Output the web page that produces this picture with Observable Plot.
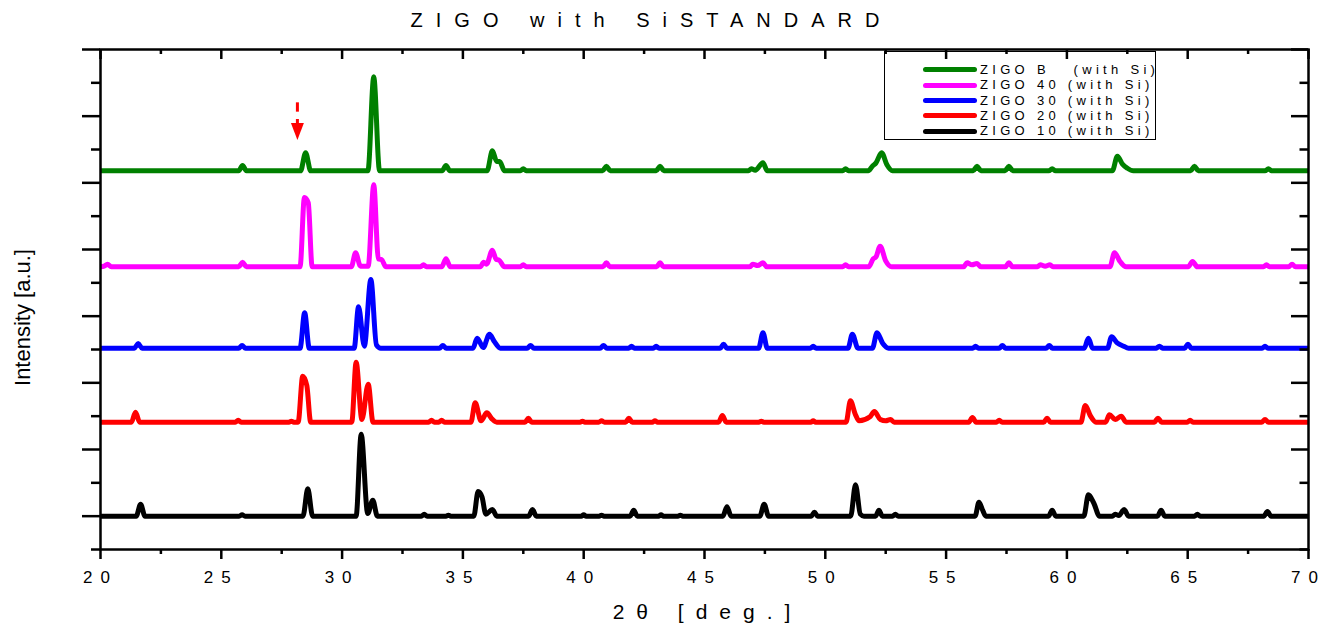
<!DOCTYPE html>
<html>
<head>
<meta charset="utf-8">
<script src="https://cdn.jsdelivr.net/npm/d3@7"></script>
<script src="https://cdn.jsdelivr.net/npm/@observablehq/plot@0.6"></script>
<style>
  html, body { margin: 0; padding: 0; background: #fff; }
  #wrap { position: relative; width: 1324px; height: 624px; font-family: "Liberation Sans", Arial, sans-serif; }
  #chart svg { display: block; }
  g[aria-label="x-axis tick label"] text { letter-spacing: 8px; }
  #legend { position: absolute; left: 884px; top: 51px; width: 272px; height: 89px; border: 1.5px solid #000; box-sizing: border-box; }
  #legend .sw { position: absolute; left: 38px; width: 54px; height: 5px; border-radius: 2.5px; }
  #legend .lab { position: absolute; left: 95px; font-size: 13px; line-height: 16px; letter-spacing: 4.3px; white-space: pre; color: #000; }
</style>
</head>
<body>
<div id="wrap">
  <div id="chart"></div>
  <div id="legend"></div>
</div>
<script>
// ---------- data ----------
const xTickValues = [20, 25, 30, 35, 40, 45, 50, 55, 60, 65, 70];
const xTickLabels = ["20", "25", "30", "35", "40", "45", "50", "55", "60", "65", "70"];
const xMinorValues = [22.5, 27.5, 32.5, 37.5, 42.5, 47.5, 52.5, 57.5, 62.5, 67.5];
const yMajorValues = [0, 100, 200, 300, 400, 500, 600, 700];
const yMinorValues = [-50, 50, 150, 250, 350, 450, 550, 650];

const seriesNames = ["ZIGO B", "ZIGO 40", "ZIGO 30", "ZIGO 20", "ZIGO 10"];
const legendLabels = ["ZIGO B   (with Si)", "ZIGO 40 (with Si)", "ZIGO 30 (with Si)", "ZIGO 20 (with Si)", "ZIGO 10 (with Si)"];
const seriesColors = ["#008000", "#ff00ff", "#0000ff", "#ff0000", "#000000"];
const seriesOffsets = [518, 374, 252, 141, 0];

// [2θ, intensity above the series baseline]
const zigoB = [[20,0],[25.72,0],[25.88,8],[26.04,0],[28.28,0],[28.49,27],[28.7,0],[31.07,0],[31.31,141],[31.55,0],[34.14,0],[34.3,8],[34.46,0],[36.0,0],[36.22,30],[36.4,14],[36.52,14],[36.72,0],[37.38,0],[37.5,3],[37.62,0],[40.78,0],[40.94,7],[41.1,0],[43.0,0],[43.16,7],[43.32,0],[46.82,0],[46.94,3],[47.1,1],[47.42,12],[47.6,0],[50.72,0],[50.84,3],[50.96,0],[51.78,0],[51.95,7],[52.1,12],[52.33,27],[52.55,9],[52.78,0],[56.12,0],[56.28,7],[56.44,0],[57.44,0],[57.6,7],[57.76,0],[59.25,0],[59.39,3],[59.53,0],[61.88,0],[62.09,22],[62.3,10],[62.5,4],[62.75,0],[65.12,0],[65.28,7],[65.44,0],[68.2,0],[68.34,3],[68.48,0],[70,0]];
const zigo40 = [[20,0],[20.15,1],[20.29,4],[20.45,0],[25.72,0],[25.88,7],[26.04,0],[28.26,0],[28.44,104],[28.6,96],[28.76,0],[30.38,0],[30.56,21],[30.76,1],[31.08,1],[31.31,123],[31.5,12],[31.63,11],[31.82,0],[33.25,0],[33.37,3],[33.49,0],[34.12,0],[34.3,12],[34.48,0],[35.72,0],[35.86,7],[35.98,4],[36.22,25],[36.38,11],[36.5,10],[36.72,0],[37.38,0],[37.5,3],[37.62,0],[40.8,0],[40.94,6],[41.08,0],[43.02,0],[43.16,6],[43.3,0],[46.88,0],[47.0,4],[47.2,2],[47.42,6],[47.58,0],[50.72,0],[50.84,3],[50.96,0],[51.8,0],[51.98,12],[52.1,15],[52.27,31],[52.5,9],[52.75,0],[55.72,0],[55.87,6],[56.07,3],[56.28,5],[56.44,0],[57.45,0],[57.6,6],[57.75,0],[58.78,0],[58.9,3],[59.1,1],[59.3,3],[59.42,0],[61.78,0],[61.97,21],[62.2,8],[62.45,0],[65.02,0],[65.2,8],[65.4,0],[68.14,0],[68.26,3],[68.38,0],[69.18,0],[69.32,4],[69.46,0],[70,0]];
const zigo30 = [[20,0],[21.4,0],[21.56,7],[21.72,0],[25.72,0],[25.86,4],[26.0,0],[28.26,0],[28.45,53],[28.64,0],[30.5,0],[30.68,62],[30.92,3],[31.19,103],[31.42,5],[31.6,0],[34.03,0],[34.17,4],[34.31,0],[35.42,0],[35.59,15],[35.84,1],[36.1,21],[36.3,10],[36.55,0],[37.66,0],[37.8,4],[37.94,0],[40.68,0],[40.82,4],[40.96,0],[41.86,0],[41.98,3],[42.1,0],[42.88,0],[43.0,3],[43.12,0],[45.65,0],[45.79,6],[45.93,0],[47.24,0],[47.42,23],[47.6,0],[49.38,0],[49.5,3],[49.62,0],[50.94,0],[51.12,21],[51.35,0],[51.95,0],[52.14,23],[52.38,7],[52.62,0],[56.1,0],[56.22,3],[56.34,0],[57.2,0],[57.33,4],[57.46,0],[59.14,0],[59.27,4],[59.4,0],[60.72,0],[60.89,15],[61.06,0],[61.68,0],[61.85,17],[62.08,8],[62.35,3],[62.55,0],[63.7,0],[63.83,3],[63.96,0],[64.87,0],[65.01,6],[65.15,0],[68.08,0],[68.2,3],[68.32,0],[70,0]];
const zigo20 = [[20,0],[21.28,0],[21.45,15],[21.62,0],[25.58,0],[25.7,3],[25.82,0],[27.8,0],[27.9,1.5],[28.0,0],[28.18,0],[28.37,69],[28.54,55],[28.7,0],[30.4,0],[30.58,90],[30.82,4],[31.08,57],[31.28,0],[33.58,0],[33.7,3],[33.82,0],[34.0,0],[34.12,3],[34.24,0],[35.33,0],[35.51,29],[35.75,2],[35.99,14],[36.2,5],[36.4,0],[37.57,0],[37.71,6],[37.85,0],[39.85,0],[39.95,1.5],[40.05,0],[40.62,0],[40.74,2],[40.86,0],[41.73,0],[41.87,6],[42.01,0],[42.84,0],[42.95,2],[43.06,0],[45.58,0],[45.74,10],[45.9,0],[47.25,0],[47.35,1.5],[47.45,0],[49.4,0],[49.5,2],[49.6,0],[50.86,0],[51.04,32],[51.24,12],[51.4,2],[51.85,8],[52.03,16],[52.28,4],[52.5,2],[52.7,4],[52.85,0],[55.94,0],[56.09,7],[56.24,0],[57.08,0],[57.2,3],[57.32,0],[59.04,0],[59.18,6],[59.32,0],[60.58,0],[60.76,25],[60.98,9],[61.2,0],[61.6,0],[61.76,11],[62.0,4],[62.25,9],[62.45,0],[63.62,0],[63.77,6],[63.92,0],[64.98,0],[65.1,3],[65.22,0],[68.06,0],[68.2,4],[68.34,0],[70,0]];
const zigo10 = [[20,0],[21.48,0],[21.66,18],[21.84,0],[25.74,0],[25.86,2],[25.98,0],[28.38,0],[28.58,41],[28.78,0],[30.58,0],[30.79,123],[31.06,4],[31.27,24],[31.46,0],[33.28,0],[33.4,3],[33.52,0],[34.3,0],[34.4,1.5],[34.5,0],[35.45,0],[35.63,37],[35.79,29],[35.95,3],[36.22,10],[36.4,0],[37.72,0],[37.88,10],[38.04,0],[39.9,0],[40.0,2],[40.1,0],[40.64,0],[40.74,1.5],[40.84,0],[41.92,0],[42.07,9],[42.22,0],[43.1,0],[43.2,2],[43.3,0],[43.9,0],[44.0,1.5],[44.1,0],[45.76,0],[45.93,14],[46.1,0],[47.29,0],[47.47,18],[47.65,0],[49.42,0],[49.55,6],[49.68,0],[51.05,0],[51.25,47],[51.45,3],[51.6,0],[52.08,0],[52.22,9],[52.36,0],[52.78,0],[52.9,3],[53.02,0],[56.2,0],[56.36,21],[56.5,10],[56.65,0],[59.24,0],[59.39,9],[59.54,0],[60.7,0],[60.89,32],[61.12,19],[61.35,0],[61.88,0],[62.0,3],[62.15,1],[62.37,10],[62.55,0],[63.75,0],[63.9,9],[64.05,0],[65.28,0],[65.4,3],[65.52,0],[68.15,0],[68.3,7],[68.45,0],[70,0]];
const seriesPoints = [zigoB, zigo40, zigo30, zigo20, zigo10];

// red marker arrow above the ZIGO B peak near 28°
const arrowNote = [{ t: 28.15, dashTop: 620, dashBottom: 606, stemTop: 595, stemBottom: 586, head: 577 }];

const titleText = "ZIGO with SiSTANDARD";
const xTitle = "2θ [deg.]";
const yTitle = "Intensity [a.u.]";

// ---------- build ----------
const FONT = '"Liberation Sans", Arial, sans-serif';
const W = 1324, H = 624, mL = 100, mR = 16, mT = 49, mB = 75;
const xDom = [20, 70], yDom = [-50, 700];
const xPerPx = (xDom[1] - xDom[0]) / (W - mL - mR);
const yPerPx = (yDom[1] - yDom[0]) / (H - mT - mB);

const rows = seriesNames.flatMap((name, i) =>
  seriesPoints[i].map(([t, v]) => ({ name, t, y: v + seriesOffsets[i] }))
);

const downTriangle = {
  draw(context) {
    context.moveTo(-6.5, -8.5);
    context.lineTo(6.5, -8.5);
    context.lineTo(0, 8.5);
    context.closePath();
  }
};

const plot = Plot.plot({
  width: W, height: H,
  marginLeft: mL, marginRight: mR, marginTop: mT, marginBottom: mB,
  x: { domain: xDom },
  y: { domain: yDom },
  color: { domain: seriesNames, range: seriesColors },
  style: { fontFamily: FONT, fontSize: "17px", color: "#000", background: "#fff", overflow: "visible" },
  marks: [
    Plot.line(rows, { x: "t", y: "y", z: "name", stroke: "name", strokeWidth: 5, curve: "monotone-x", strokeLinejoin: "round", strokeLinecap: "butt" }),
    Plot.frame({ stroke: "#000", strokeWidth: 2.5 }),
    Plot.axisX({ anchor: "bottom", ticks: xTickValues, tickSize: 10, tickPadding: 11, tickFormat: d => xTickLabels[xTickValues.indexOf(d)], strokeWidth: 2.5, fontSize: 17, dx: 0, label: null }),
    Plot.axisX({ anchor: "bottom", ticks: xMinorValues, tickSize: 5, tickFormat: () => "", strokeWidth: 2.5, label: null }),
    Plot.axisY({ anchor: "left", ticks: yMajorValues, tickSize: 18, tickFormat: () => "", strokeWidth: 2.5, label: null }),
    Plot.axisY({ anchor: "left", ticks: yMinorValues, tickSize: 9, tickFormat: () => "", strokeWidth: 2.5, label: null }),
    Plot.ruleY(yMajorValues, { y: d => d, x1: xDom[1] - 17 * xPerPx, x2: xDom[1], strokeWidth: 2.5 }),
    Plot.ruleY(yMinorValues, { y: d => d, x1: xDom[1] - 8.5 * xPerPx, x2: xDom[1], strokeWidth: 2.5 }),
    Plot.ruleX(xTickValues, { x: d => d, y1: yDom[1] - 10 * yPerPx, y2: yDom[1], strokeWidth: 2.5 }),
    Plot.ruleX(xMinorValues, { x: d => d, y1: yDom[1] - 5 * yPerPx, y2: yDom[1], strokeWidth: 2.5 }),
    // arrow annotation
    Plot.ruleX(arrowNote, { x: "t", y1: "dashBottom", y2: "dashTop", stroke: "#ff0000", strokeWidth: 3 }),
    Plot.ruleX(arrowNote, { x: "t", y1: "stemBottom", y2: "stemTop", stroke: "#ff0000", strokeWidth: 3 }),
    Plot.dot(arrowNote, { x: "t", y: "head", r: 6, symbol: downTriangle, fill: "#ff0000", stroke: null }),
    // titles
    Plot.text([titleText], { frameAnchor: "top", dy: -29, dx: -53, fontSize: 20, textAnchor: "middle", lineAnchor: "middle" }),
    Plot.text([xTitle], { frameAnchor: "bottom", dy: 63, dx: 3, fontSize: 21, textAnchor: "middle", lineAnchor: "middle" }),
    Plot.text([yTitle], { frameAnchor: "left", dx: -78, dy: 18, rotate: -90, fontSize: 22, textAnchor: "middle", lineAnchor: "middle" })
  ]
});
document.getElementById("chart").appendChild(plot);

// letter spacing, as in the reference
d3.select(plot).selectAll("text").each(function () {
  const t = this.textContent;
  if (t === titleText) this.style.letterSpacing = "13px";
  if (t === xTitle) this.style.letterSpacing = "12px";
});

// legend
const legend = document.getElementById("legend");
const rowCenters = [19, 34.5, 50, 65, 80.5];
seriesNames.forEach((name, i) => {
  const sw = document.createElement("div");
  sw.className = "sw";
  sw.style.top = (rowCenters[i] - 2.5 - 1.5) + "px";
  sw.style.background = seriesColors[i];
  legend.appendChild(sw);
  const lab = document.createElement("div");
  lab.className = "lab";
  lab.style.top = (rowCenters[i] - 8 - 1.5) + "px";
  lab.textContent = legendLabels[i];
  legend.appendChild(lab);
});
</script>
</body>
</html>
